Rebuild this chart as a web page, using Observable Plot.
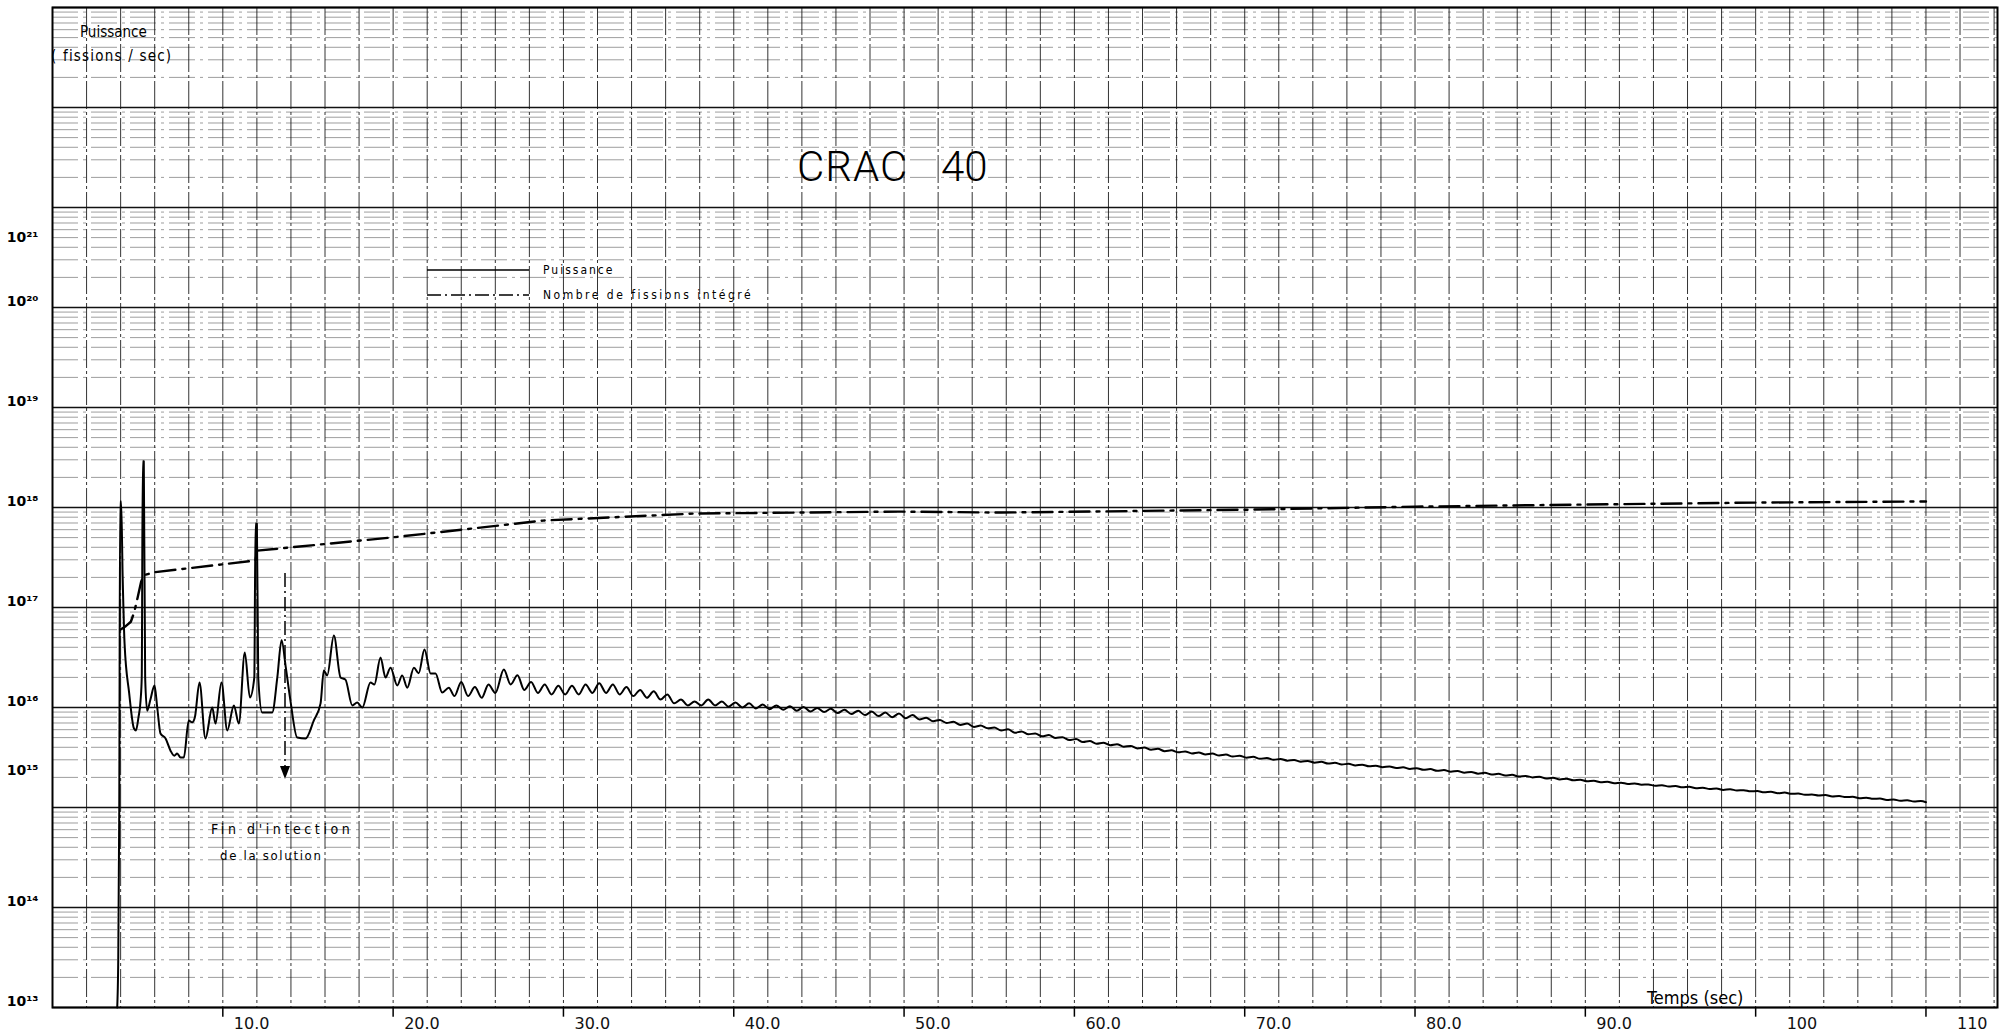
<!DOCTYPE html>
<html>
<head>
<meta charset="utf-8">
<script src="https://cdn.jsdelivr.net/npm/d3@7"></script>
<script src="https://cdn.jsdelivr.net/npm/@observablehq/plot@0.6"></script>
<style>
  html, body { margin: 0; padding: 0; background: #fff; }
  #chart svg { display: block; }
</style>
</head>
<body>
<div id="chart"></div>
<script>
// ---------- data ----------
// Puissance (fissions/sec) vs temps (sec)
const powerT = [3.80,3.86,3.92,3.97,4.03,4.12,4.23,4.50,4.78,4.90,5.05,5.17,5.24,5.30,5.36,5.44,5.56,5.75,5.99,6.15,6.34,6.64,6.93,7.15,7.32,7.52,7.71,8.00,8.20,8.36,8.63,8.98,9.38,9.57,9.92,10.26,10.65,10.94,11.29,11.59,11.85,11.92,12.00,12.08,12.31,12.90,13.20,13.45,13.70,13.97,14.37,14.86,15.34,15.74,15.93,16.13,16.52,16.91,17.20,17.60,17.89,18.19,18.67,18.90,19.26,19.55,19.85,20.24,20.53,20.83,21.22,21.50,21.84,22.20,22.49,22.88,23.27,23.60,24.00,24.40,24.80,25.20,25.60,26.00,26.50,26.90,27.30,27.70,28.10,28.50,28.90,29.30,29.70,30.10,30.50,30.90,31.30,31.70,32.10,32.50,32.90,33.30,33.70,34.10,34.50,34.90,35.30,35.70,36.10,36.50,36.90,37.30,37.70,38.10,38.50,38.90,39.30,39.70,40.10,40.50,40.90,41.30,41.70,42.10,42.50,42.90,43.30,43.70,44.10,44.50,44.90,45.30,45.70,46.10,46.50,46.90,47.30,47.70,48.10,48.50,48.90,49.30,49.70,50.10,
  50.5,50.9,51.3,51.7,52.1,52.5,52.9,53.3,53.7,54.1,54.5,54.9,55.3,55.7,56.1,56.5,56.9,57.3,57.7,58.1,58.5,58.9,59.3,59.7,
  60.1,60.5,60.9,61.3,61.7,62.1,62.5,62.9,63.3,63.7,64.1,64.5,64.9,65.3,65.7,66.1,66.5,66.9,67.3,67.7,68.1,68.5,68.9,69.3,69.7,
  70.1,70.5,70.9,71.3,71.7,72.1,72.5,72.9,73.3,73.7,74.1,74.5,74.9,75.3,75.7,76.1,76.5,76.9,77.3,77.7,78.1,78.5,78.9,79.3,79.7,
  80.1,80.5,80.9,81.3,81.7,82.1,82.5,82.9,83.3,83.7,84.1,84.5,84.9,85.3,85.7,86.1,86.5,86.9,87.3,87.7,88.1,88.5,88.9,89.3,89.7,
  90.1,90.5,90.9,91.3,91.7,92.1,92.5,92.9,93.3,93.7,94.1,94.5,94.9,95.3,95.7,96.1,96.5,96.9,97.3,97.7,98.1,98.5,98.9,99.3,99.7,
  100.1,100.5,100.9,101.3,101.7,102.1,102.5,102.9,103.3,103.7,104.1,104.5,104.9,105.3,105.7,106.1,106.5,106.9,107.3,107.7,108.1,108.5,108.9,109.3,109.7,110.0];
const powerV = [1.0e13,3e13,1e15,1.15e18,1.15e18,2e17,4.4e16,1.4e16,6.2e15,5.9e15,8e15,1.17e16,2e16,2.9e18,2.9e18,2e16,9.3e15,1.2e16,1.66e16,1.0e16,5.5e15,4.9e15,3.7e15,3.3e15,3.47e15,3.16e15,3.16e15,7.4e15,7.1e15,8e15,1.78e16,4.9e15,1.0e16,6.9e15,1.78e16,5.9e15,1.05e16,6.9e15,3.55e16,1.26e16,2e16,6.9e17,6.9e17,2e16,8.9e15,8.9e15,2e16,4.7e16,2.5e16,1.17e16,5e15,4.9e15,7.4e15,1.1e16,2.34e16,2.09e16,5.25e16,2e16,1.9e16,1.05e16,1.12e16,1.0e16,1.78e16,1.7e16,3.16e16,2e16,2.5e16,1.66e16,2.09e16,1.58e16,2.5e16,2.2e16,3.8e16,2.19e16,2.19e16,1.41e16,1.58e16,1.3e16,1.8e16,1.3e16,1.6e16,1.25e16,1.7e16,1.4e16,2.4e16,1.7e16,2.1e16,1.5e16,1.8e16,1.4e16,1.7e16,1.35e16,1.65e16,1.35e16,1.65e16,1.35e16,1.7e16,1.4e16,1.75e16,1.4e16,1.7e16,1.35e16,1.6e16,1.3e16,1.5e16,1.25e16,1.45e16,1.2e16,1.35e16,1.1e16,1.2e16,1.05e16,1.15e16,1.05e16,1.2e16,1.05e16,1.15e16,1.02e16,1.12e16,1.0e16,1.1e16,0.98e16,1.07e16,0.96e16,1.05e16,0.95e16,1.03e16,0.93e16,1.01e16,0.91e16,0.99e16,0.9e16,0.97e16,0.88e16,0.95e16,0.86e16,0.93e16,0.84e16,0.91e16,0.82e16,0.89e16,0.8e16,0.87e16,0.78e16,0.84e16,
  7.6e15,7.9e15,7.3e15,7.5e15,7.0e15,7.2e15,6.7e15,6.9e15,6.4e15,6.6e15,6.2e15,6.3e15,5.9e15,6.05e15,5.6e15,5.75e15,5.4e15,5.5e15,5.15e15,5.3e15,4.95e15,5.05e15,4.72e15,4.83e15,
  4.52e15,4.63e15,4.35e15,4.45e15,4.2e15,4.3e15,4.05e15,4.13e15,3.9e15,3.98e15,3.78e15,3.86e15,3.66e15,3.74e15,3.56e15,3.64e15,3.47e15,3.55e15,3.39e15,3.46e15,3.31e15,3.38e15,3.23e15,3.3e15,3.15e15,
  3.21e15,3.07e15,3.13e15,3.0e15,3.06e15,2.94e15,2.99e15,2.87e15,2.92e15,2.81e15,2.86e15,2.75e15,2.8e15,2.69e15,2.74e15,2.63e15,2.68e15,2.58e15,2.62e15,2.53e15,2.57e15,2.48e15,2.52e15,2.43e15,2.47e15,
  2.38e15,2.42e15,2.33e15,2.37e15,2.28e15,2.32e15,2.23e15,2.27e15,2.18e15,2.22e15,2.14e15,2.17e15,2.09e15,2.12e15,2.04e15,2.07e15,2.0e15,2.03e15,1.95e15,1.98e15,1.91e15,1.94e15,1.87e15,1.9e15,1.83e15,
  1.85e15,1.79e15,1.81e15,1.75e15,1.77e15,1.72e15,1.74e15,1.69e15,1.7e15,1.65e15,1.67e15,1.62e15,1.64e15,1.59e15,1.61e15,1.56e15,1.58e15,1.53e15,1.55e15,1.5e15,1.52e15,1.48e15,1.49e15,1.45e15,1.46e15,
  1.42e15,1.44e15,1.39e15,1.41e15,1.37e15,1.38e15,1.34e15,1.35e15,1.32e15,1.33e15,1.29e15,1.3e15,1.27e15,1.28e15,1.24e15,1.25e15,1.22e15,1.23e15,1.19e15,1.2e15,1.17e15,1.18e15,1.15e15,1.16e15,1.13e15,1.14e15];
// Nombre de fissions intégré
const fissT = [3.97,4.30,4.60,4.80,5.00,5.20,5.35,5.95,11.92,12.00,19.85,28.8,37.7,49.6,55.7,70,80,90,100,110];
const fissV = [6.0e16,6.5e16,7.2e16,9e16,1.26e17,1.8e17,2.1e17,2.25e17,2.95e17,3.7e17,5.0e17,7.4e17,8.7e17,9.1e17,8.9e17,9.5e17,1.02e18,1.07e18,1.12e18,1.15e18];

const xTicks = [10,20,30,40,50,60,70,80,90,100,110];
const xTickLabels = ["10.0","20.0","30.0","40.0","50.0","60.0","70.0","80.0","90.0","100","110"];
const yDecades = [13,14,15,16,17,18,19,20,21];
// where each exponent label sits on the sheet (in decades, as read)
const yLabelAt = [13,14,15.31,16,17,18,19,20,20.64];

// ---------- build ----------
const power = powerT.map((t,i) => ({t, v: powerV[i]}));
const fiss = fissT.map((t,i) => ({t, v: fissV[i]}));
const gridX = d3.range(0, 115, 2);
const decadeLines = d3.range(13, 24).map(e => Math.pow(10, e));
const minorLines = d3.range(13, 23).flatMap(e => d3.range(2, 10).map(m => m * Math.pow(10, e)));
const sup = s => String(s).split("").map(c => "⁰¹²³⁴⁵⁶⁷⁸⁹"[+c]).join("");
const ticks = xTicks.map((t,i) => ({t, label: xTickLabels[i]}));
const yLabels = yDecades.map((e,i) => ({pos: Math.pow(10, yLabelAt[i]), text: "10" + sup(e)}));

const chart = Plot.plot({
  width: 2000,
  height: 1034,
  marginLeft: 52,
  marginRight: 3,
  marginTop: 7,
  marginBottom: 27,
  x: {domain: [0, 114.2], axis: null},
  y: {type: "log", domain: [1e13, 1e23], axis: null},
  style: {background: "#fff", fontFamily: "DejaVu Sans, sans-serif"},
  marks: [
    Plot.ruleY(minorLines, {stroke: "#333", strokeOpacity: 0.6, strokeWidth: 0.8, strokeDasharray: "26,5,3,5"}),
    Plot.ruleX(gridX, {stroke: "#111", strokeOpacity: 0.85, strokeWidth: 1, strokeDasharray: "28,3,3,3"}),
    Plot.ruleY(decadeLines, {stroke: "#111", strokeWidth: 1.6}),
    Plot.frame({stroke: "#000", strokeWidth: 2}),
    Plot.ruleX(ticks, {x: "t", y1: () => 1e13, y2: () => 8e12, stroke: "#000", strokeWidth: 1.5}),
    Plot.text(ticks.filter(d => d.label.length === 4), {x: "t", y: () => 1e13, text: "label", textAnchor: "start", dx: 11, dy: 16, fontSize: 16, fill: "#111"}),
    Plot.text(ticks.filter(d => d.label.length === 3), {x: "t", y: () => 1e13, text: "label", textAnchor: "start", dx: 31, dy: 16, fontSize: 16, fill: "#111"}),
    Plot.text(yLabels, {x: () => 0, y: "pos", text: "text", textAnchor: "end", dx: -14, dy: -6, fontSize: 14, fontWeight: "bold", fill: "#000"}),
    Plot.line(fiss, {x: "t", y: "v", stroke: "#000", strokeWidth: 2.4, strokeDasharray: "20,7,3,7"}),
    Plot.line(power, {x: "t", y: "v", stroke: "#000", strokeWidth: 2, curve: "monotone-x"})
  ]
});

document.getElementById("chart").appendChild(chart);

// ---------- annotations (title, legend, labels) ----------
const svg = d3.select(chart);
const g = svg.append("g")
  .attr("font-family", "DejaVu Sans Condensed, DejaVu Sans, sans-serif")
  .attr("fill", "#000")
  .attr("text-anchor", "start");
g.append("text").attr("x", 797).attr("y", 181).attr("font-size", 42).attr("font-weight", 300).attr("font-family", "Roboto, DejaVu Sans, sans-serif").attr("letter-spacing", 1).text("CRAC");
g.append("text").attr("x", 941).attr("y", 181).attr("font-size", 42).attr("font-weight", 300).attr("font-family", "Roboto, DejaVu Sans, sans-serif").text("40");
g.append("text").attr("x", 80).attr("y", 37).attr("font-size", 15).text("Puissance");
g.append("text").attr("x", 51).attr("y", 61).attr("font-size", 15).attr("letter-spacing", 1.2).text("(\u00a0fissions\u00a0/\u00a0sec)");
// legend
g.append("line").attr("x1", 427).attr("x2", 529).attr("y1", 270).attr("y2", 270).attr("stroke", "#000").attr("stroke-width", 1.5);
g.append("line").attr("x1", 427).attr("x2", 529).attr("y1", 295).attr("y2", 295).attr("stroke", "#000").attr("stroke-width", 1.5).attr("stroke-dasharray", "14,4,2,4");
g.append("text").attr("x", 543).attr("y", 274).attr("font-size", 12).attr("letter-spacing", 2).text("Puissance");
g.append("text").attr("x", 543).attr("y", 299).attr("font-size", 12).attr("letter-spacing", 2.5).text("Nombre de fissions intégré");
// injection annotation
g.append("line").attr("x1", 285).attr("x2", 285).attr("y1", 573).attr("y2", 770).attr("stroke", "#000").attr("stroke-width", 1.5).attr("stroke-dasharray", "14,4,2,4");
g.append("path").attr("d", "M280,766 L285,779 L290,766 Z").attr("fill", "#000");
g.append("text").attr("x", 211).attr("y", 834).attr("font-size", 14).attr("letter-spacing", 3.6).text("Fin d'intection");
g.append("text").attr("x", 220).attr("y", 860).attr("font-size", 13).attr("letter-spacing", 1.7).text("de la solution");
g.append("text").attr("x", 1647).attr("y", 1004).attr("font-size", 18).text("Temps (sec)");
</script>
</body>
</html>
